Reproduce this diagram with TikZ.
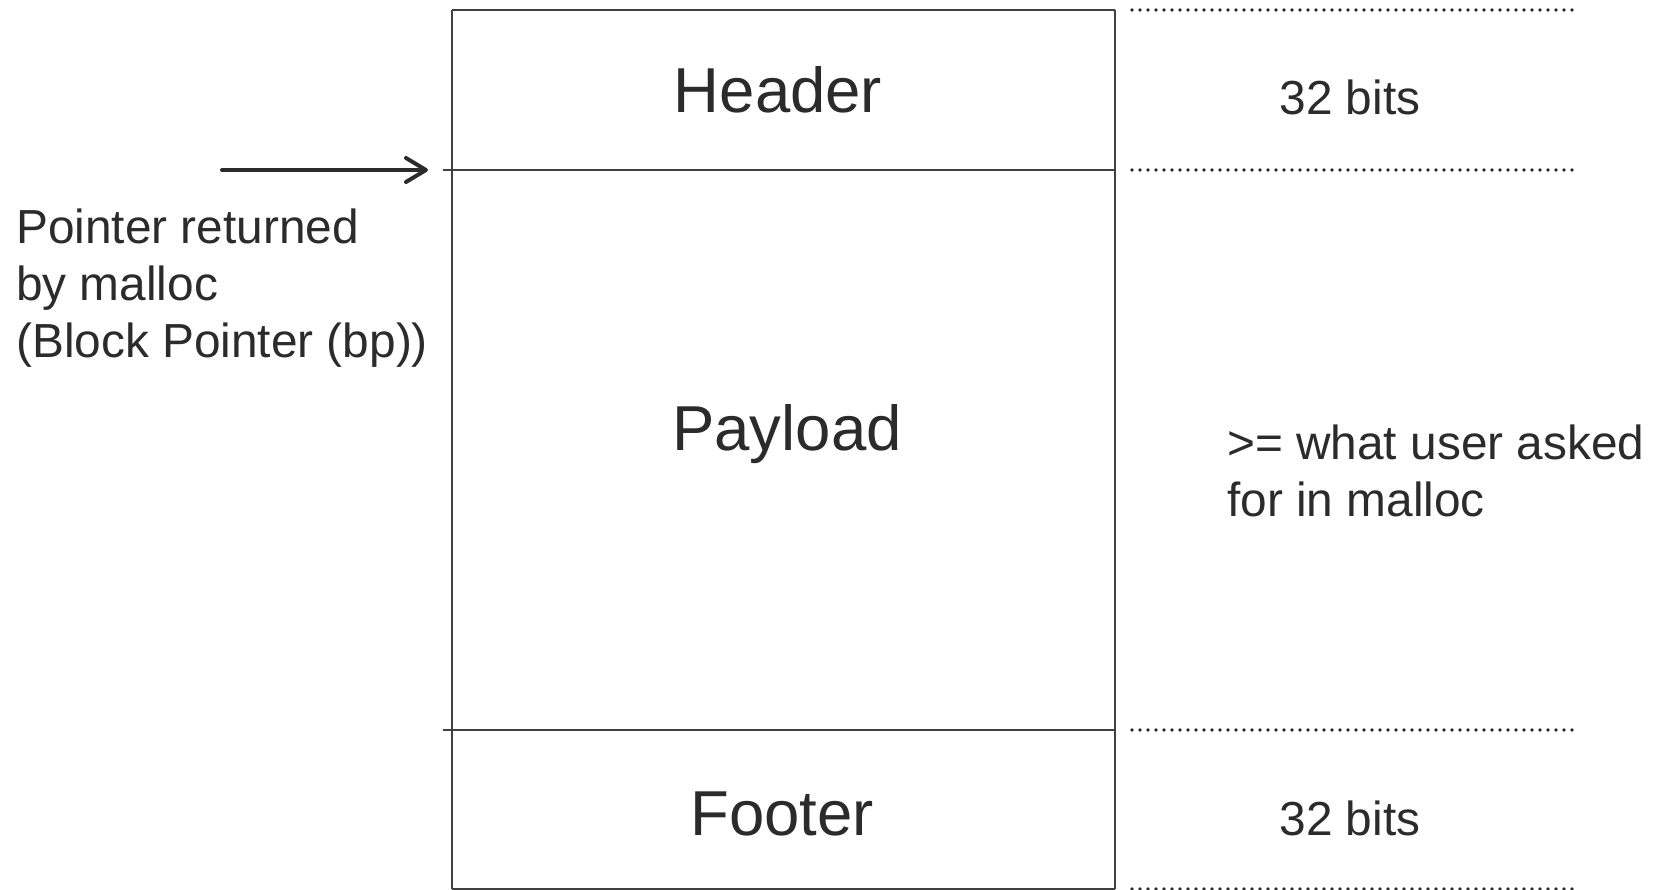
\documentclass[tikz,border=0pt]{standalone}
\usepackage{fontspec}
\setmainfont{Liberation Sans}
\usetikzlibrary{arrows.meta}
\definecolor{ink}{HTML}{2B2B2B}
\definecolor{edge}{HTML}{404040}
\tikzset{
  boxline/.style={draw=edge, line width=2.2pt},
  dotline/.style={draw=ink, line width=3.6pt, line cap=round, dash pattern=on 0pt off 8pt},
  bigtext/.style={inner sep=0pt, text=ink, font=\fontsize{63.5}{76}\selectfont, anchor=base},
  smalltext/.style={inner sep=0pt, text=ink, font=\fontsize{47.8}{57}\selectfont},
  ptr/.style={draw=ink, line width=4pt, line cap=round, -{Straight Barb[length=20pt,width=24pt,round]}}
}
\begin{document}
\begin{tikzpicture}[x=1pt,y=-1pt]
\useasboundingbox (0,0) rectangle (1659,890);
% block outline
\coordinate (tl) at (452,10);
\coordinate (tr) at (1115,10);
\coordinate (bl) at (452,889);
\coordinate (br) at (1115,889);
\coordinate (hl) at (443,170);
\coordinate (hr) at (1115,170);
\coordinate (fl) at (443,730);
\coordinate (fr) at (1115,730);
\draw[boxline] (tl) -- (tr);
\draw[boxline] (tl) -- (bl);
\draw[boxline] (tr) -- (br);
\draw[boxline] (bl) -- (br);
\draw[boxline] (hl) -- (hr);
\draw[boxline] (fl) -- (fr);
% dotted guide lines
\foreach \yy/\nm in {10/a,170/b,730/c,889/d}{
  \coordinate (d\nm1) at (1132,\yy);
  \coordinate (d\nm2) at (1573,\yy);
  \draw[dotline] (d\nm1) -- (d\nm2);
}
% section labels
\node[bigtext] (header) at (778,113) {Header};
\node[bigtext] (payload) at (787,450) {Payload};
\node[bigtext] (footer) at (782,835) {Footer};
% size labels
\node[smalltext, anchor=base] (bits1) at (1350,115) {32 bits};
\node[smalltext, anchor=base] (bits2) at (1350,835) {32 bits};
\node[smalltext, anchor=north west, align=left] (asked) at (1227,424.5) {>= what user asked\\for in malloc};
% pointer
\node[smalltext, anchor=north west, align=left] (ptrtext) at (16,208.5) {Pointer returned\\by malloc\\(Block Pointer (bp))};
\coordinate (ps) at (222,170);
\coordinate (pe) at (428,170);
\draw[ptr] (ps) -- (pe);
\end{tikzpicture}
\end{document}
